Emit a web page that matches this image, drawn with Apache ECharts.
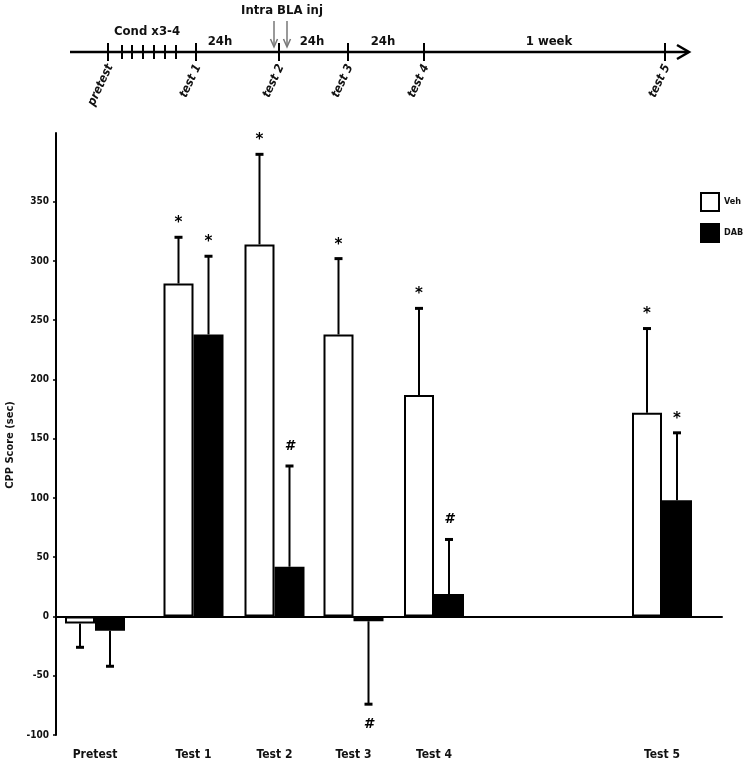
<!DOCTYPE html>
<html><head><meta charset="utf-8">
<script src="https://cdn.jsdelivr.net/npm/echarts@6/dist/echarts.min.js"></script>
<style>html,body{margin:0;padding:0;background:#fff}#c{width:748px;height:763px}</style>
</head><body><div id="c"></div>
<script>
// ---- data ----
const categories = ['Pretest', 'Test 1', 'Test 2', 'Test 3', 'Test 4', 'Test 5'];
const vehMean = [-6, 281, 314, 238, 187, 172];
const vehSem  = [20, 39, 76, 64, 73, 71];
const dabMean = [-12, 238, 42, -4, 19, 98];
const dabSem  = [30, 66, 85, 70, 46, 57];
const vehMark = ['', '*', '*', '*', '*', '*'];
const dabMark = ['', '*', '#', '#', '#', '*'];
const yTicks = [-100, -50, 0, 50, 100, 150, 200, 250, 300, 350];
const seriesNames = ['Veh', 'DAB'];

// ---- layout (horizontal slot of each test on the time line) ----
const slot = [0, 9.85, 17.95, 25.85, 33.9, 56.7];
const FONT = "'Liberation Sans Narrow','DejaVu Sans Condensed','Liberation Sans',sans-serif";

function nearestIdx(v) {
  let b = 0;
  for (let i = 1; i < slot.length; i++) if (Math.abs(slot[i] - v) < Math.abs(slot[b] - v)) b = i;
  return b;
}

function errRender(side, marks) {
  return function (params, api) {
    const x = api.value(0), m = api.value(1), e = api.value(2);
    const dir = m < 0 ? -1 : 1;
    const base = api.coord([x, m]);
    const tip = api.coord([x, m + dir * e]);
    const cx = base[0] + side * 15;
    const children = [
      { type: 'line', shape: { x1: cx, y1: base[1], x2: cx, y2: tip[1] }, style: { stroke: '#000', lineWidth: 2 } },
      { type: 'line', shape: { x1: cx - 4, y1: tip[1], x2: cx + 4, y2: tip[1] }, style: { stroke: '#000', lineWidth: 3 } }
    ];
    const mk = marks[params.dataIndex];
    if (mk) {
      const isStar = mk === '*';
      const off = isStar ? 14 : 20;
      children.push({
        type: 'text',
        style: {
          text: mk, x: cx, y: tip[1] - dir * (isStar && dir < 0 ? 20 : off),
          align: 'center', verticalAlign: 'middle',
          font: isStar ? "bold 15px 'DejaVu Sans',sans-serif" : "italic bold 14px 'DejaVu Sans',sans-serif",
          fill: '#000'
        }
      });
    }
    return { type: 'group', children };
  };
}

const chart = echarts.init(document.getElementById('c'), null, { renderer: 'canvas' });

// timeline drawing
const tl = [];
const TY = 52;
tl.push({ type: 'line', shape: { x1: 70, y1: TY, x2: 688, y2: TY }, style: { stroke: '#000', lineWidth: 2.5 } });
tl.push({ type: 'polyline', shape: { points: [[677, TY - 7], [689, TY], [677, TY + 7]] }, style: { stroke: '#000', lineWidth: 2.5, fill: null } });
[108, 196, 279, 348, 424, 665].forEach(x => tl.push({ type: 'line', shape: { x1: x, y1: 43, x2: x, y2: 61 }, style: { stroke: '#000', lineWidth: 2 } }));
[122, 132, 143, 154, 165, 176].forEach(x => tl.push({ type: 'line', shape: { x1: x, y1: 45, x2: x, y2: 59 }, style: { stroke: '#000', lineWidth: 2 } }));
const tlLabels = [['pretest', 110], ['test 1', 198], ['test 2', 281], ['test 3', 350], ['test 4', 426], ['test 5', 667]];
tlLabels.forEach(([t, x]) => tl.push({
  type: 'text', x: x, y: 65, rotation: 65 * Math.PI / 180,
  style: { text: t, align: 'right', verticalAlign: 'middle', font: "italic bold 12px " + FONT, fill: '#111' }
}));
const topTexts = [['Cond x3-4', 147, 32], ['Intra BLA inj', 282, 11], ['24h', 220, 42], ['24h', 312, 42], ['24h', 383, 42], ['1 week', 549, 42]];
topTexts.forEach(([t, x, y]) => tl.push({
  type: 'text', x: x, y: y,
  style: { text: t, align: 'center', verticalAlign: 'middle', font: "bold 13px " + FONT, fill: '#111' }
}));
[274, 287].forEach(x => {
  tl.push({ type: 'line', shape: { x1: x, y1: 21, x2: x, y2: 46 }, style: { stroke: '#777', lineWidth: 1.5 } });
  tl.push({ type: 'polyline', shape: { points: [[x - 3.5, 39], [x, 47], [x + 3.5, 39]] }, style: { stroke: '#777', lineWidth: 1.5, fill: null } });
});
tl.push({
  type: 'text', x: 10, y: 445, rotation: Math.PI / 2,
  style: { text: 'CPP Score (sec)', align: 'center', verticalAlign: 'middle', font: "bold 11px " + FONT, fill: '#111' }
});

const option = {
  animation: false,
  backgroundColor: '#fff',
  textStyle: { fontFamily: FONT },
  grid: { left: 56, right: 26, top: 133, bottom: 28 },
  legend: {
    data: seriesNames, orient: 'vertical', left: 695, top: 187,
    itemWidth: 18, itemHeight: 18, itemGap: 11, icon: 'rect',
    textStyle: { fontSize: 9, fontWeight: 'bold', color: '#111', fontFamily: FONT },
    selectedMode: false
  },
  xAxis: [
    {
      type: 'value', min: -3.9, max: 62.7,
      axisLine: { onZero: true, lineStyle: { color: '#000', width: 2 } },
      axisTick: { show: false }, axisLabel: { show: false }, splitLine: { show: false }
    },
    {
      type: 'value', min: -3.9, max: 62.7, position: 'bottom',
      axisLine: { show: false, onZero: false }, axisTick: { show: false }, splitLine: { show: false },
      axisLabel: {
        customValues: slot, margin: 14, fontSize: 12, fontWeight: 'bold', color: '#111', fontFamily: FONT,
        formatter: v => categories[nearestIdx(v)]
      }
    }
  ],
  yAxis: {
    type: 'value', min: -100, max: 408, position: 'left',
    axisLine: { show: true, onZero: false, lineStyle: { color: '#000', width: 2 } },
    axisTick: { show: true, length: 3, customValues: yTicks, lineStyle: { color: '#000', width: 1.5 } },
    axisLabel: { customValues: yTicks, fontSize: 10, fontWeight: 'bold', color: '#111', margin: 7, fontFamily: FONT },
    splitLine: { show: false }
  },
  graphic: tl,
  series: [
    {
      name: 'Veh', type: 'bar', barWidth: 30, barGap: '0%',
      itemStyle: { color: '#fff', borderColor: '#000', borderWidth: 2 },
      data: slot.map((x, i) => [x, vehMean[i]]), z: 2
    },
    {
      name: 'DAB', type: 'bar', barWidth: 30, barGap: '0%',
      itemStyle: { color: '#000', borderColor: '#000', borderWidth: 2 },
      data: slot.map((x, i) => [x, dabMean[i]]), z: 2
    },
    {
      name: 'Veh err', type: 'custom', renderItem: errRender(-1, vehMark), z: 3,
      data: slot.map((x, i) => [x, vehMean[i], vehSem[i]])
    },
    {
      name: 'DAB err', type: 'custom', renderItem: errRender(1, dabMark), z: 3,
      data: slot.map((x, i) => [x, dabMean[i], dabSem[i]])
    }
  ]
};
chart.setOption(option);
</script>
</body></html>
